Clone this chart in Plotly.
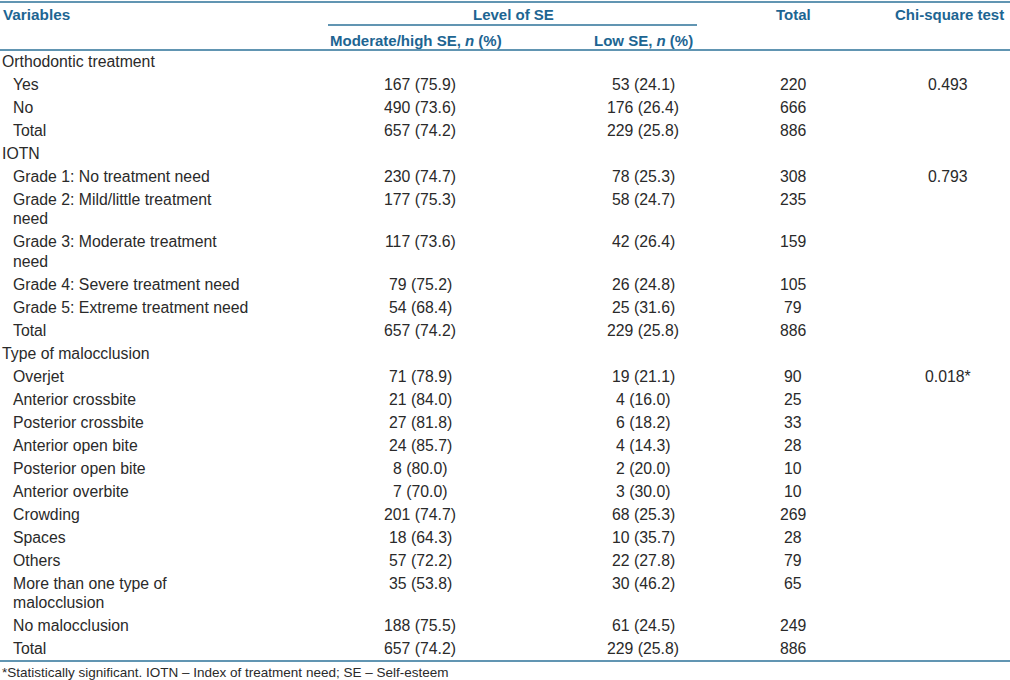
import plotly.graph_objects as go

# table content
labels = [
    "Orthodontic treatment", "Yes", "No", "Total",
    "IOTN", "Grade 1: No treatment need", "Grade 2: Mild/little treatment\nneed",
    "Grade 3: Moderate treatment\nneed", "Grade 4: Severe treatment need",
    "Grade 5: Extreme treatment need", "Total",
    "Type of malocclusion", "Overjet", "Anterior crossbite", "Posterior crossbite",
    "Anterior open bite", "Posterior open bite", "Anterior overbite", "Crowding",
    "Spaces", "Others", "More than one type of\nmalocclusion", "No malocclusion", "Total",
]
is_group = [True, False, False, False,
            True, False, False, False, False, False, False,
            True, False, False, False, False, False, False, False, False, False, False, False, False]
moderate_high = ["", "167 (75.9)", "490 (73.6)", "657 (74.2)",
                 "", "230 (74.7)", "177 (75.3)", "117 (73.6)", "79 (75.2)", "54 (68.4)", "657 (74.2)",
                 "", "71 (78.9)", "21 (84.0)", "27 (81.8)", "24 (85.7)", "8 (80.0)", "7 (70.0)",
                 "201 (74.7)", "18 (64.3)", "57 (72.2)", "35 (53.8)", "188 (75.5)", "657 (74.2)"]
low = ["", "53 (24.1)", "176 (26.4)", "229 (25.8)",
       "", "78 (25.3)", "58 (24.7)", "42 (26.4)", "26 (24.8)", "25 (31.6)", "229 (25.8)",
       "", "19 (21.1)", "4 (16.0)", "6 (18.2)", "4 (14.3)", "2 (20.0)", "3 (30.0)",
       "68 (25.3)", "10 (35.7)", "22 (27.8)", "30 (46.2)", "61 (24.5)", "229 (25.8)"]
totals = ["", "220", "666", "886",
          "", "308", "235", "159", "105", "79", "886",
          "", "90", "25", "33", "28", "10", "10", "269", "28", "79", "65", "249", "886"]
chi_square = ["", "0.493", "", "",
              "", "0.793", "", "", "", "", "",
              "", "0.018*", "", "", "", "", "", "", "", "", "", "", ""]

headers = ["Variables", "Level of SE", "Total", "Chi-square test"]
sub_headers = ["Moderate/high SE, <i>n</i> (%)", "Low SE, <i>n</i> (%)"]
footnote = "*Statistically significant. IOTN – Index of treatment need; SE – Self-esteem"

W, H = 1010, 680
FONT = "Liberation Sans, Arial, Helvetica, sans-serif"
BODY = "#2a2a2a"
HEAD = "#1d6592"
RULE = "#2d7299"

col_x = [420, 643, 793, 948]
row_step, extra_line = 23, 19.5

annotations = []


def add(text, x, y, anchor="center", color=BODY, size=15.8):
    annotations.append(dict(text=text, x=x, y=y, xref="x", yref="y",
                            xanchor=anchor, yanchor="middle", showarrow=False,
                            font=dict(family=FONT, size=size, color=color)))


# header
add("<b>%s</b>" % headers[0], 1, 14, "left", HEAD, 15.3)
add("<b>%s</b>" % headers[1], 513, 14, "center", HEAD, 15)
add("<b>%s</b>" % headers[2], col_x[2], 14, "center", HEAD, 15)
add("<b>%s</b>" % headers[3], 949, 14, "center", HEAD, 15)
add("<b>%s</b>" % sub_headers[0], 416, 40, "center", HEAD, 15)
add("<b>%s</b>" % sub_headers[1], col_x[1], 40, "center", HEAD, 15)

# body rows
y = 61
for i, lab in enumerate(labels):
    lines = lab.split("\n")
    xl = 0 if is_group[i] else 11
    for k, ln in enumerate(lines):
        add(ln, xl, y + k * extra_line, "left")
    for cx, col in zip(col_x, [moderate_high, low, totals, chi_square]):
        if col[i]:
            add(col[i], cx, y)
    y += row_step + (len(lines) - 1) * extra_line

add(footnote, 0, 672, "left", size=13.5)

rules = [(0, W, 2), (328, 697, 25), (0, W, 50), (0, W, 661)]
shapes = [dict(type="line", x0=a, x1=b, y0=yy, y1=yy, xref="x", yref="y",
               line=dict(color=RULE, width=1.5)) for a, b, yy in rules]

fig = go.Figure()
fig.add_trace(go.Scatter(x=[0, W], y=[0, H], mode="markers",
                         marker=dict(opacity=0), hoverinfo="skip", showlegend=False))
fig.update_layout(
    width=W, height=H,
    margin=dict(l=0, r=0, t=0, b=0),
    paper_bgcolor="white", plot_bgcolor="white",
    xaxis=dict(range=[0, W], visible=False, fixedrange=True),
    yaxis=dict(range=[H, 0], visible=False, fixedrange=True),
    annotations=annotations, shapes=shapes,
)
fig.write_html("out.html", config={"displayModeBar": False},
               post_script="document.body.style.margin='0';document.body.style.overflow='hidden';")
